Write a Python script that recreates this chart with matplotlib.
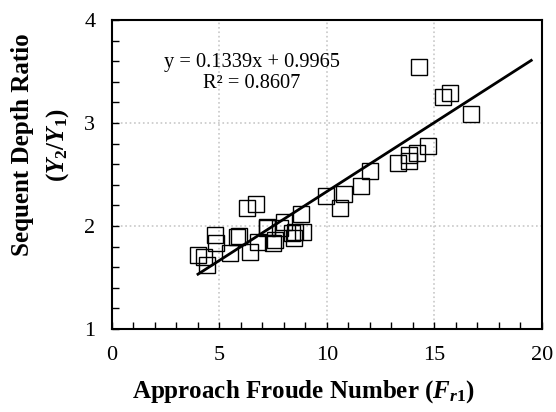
import matplotlib.pyplot as plt
import numpy as np
from matplotlib.ticker import MultipleLocator

plt.rcParams["font.family"] = ["Liberation Serif", "DejaVu Serif"]
plt.rcParams["mathtext.fontset"] = "custom"
plt.rcParams["mathtext.rm"] = "Liberation Serif:bold"
plt.rcParams["mathtext.it"] = "Liberation Serif:bold:italic"
plt.rcParams["mathtext.bf"] = "Liberation Serif:bold"

# Approach Froude number (Fr1) and sequent depth ratio (Y2/Y1)
froude = [4.0, 4.3, 4.4, 4.8, 4.85, 5.5, 5.8, 5.9, 6.3, 6.7, 6.4, 6.8,
          7.2, 7.2, 7.5, 7.6, 7.8, 8.0, 8.35, 8.45, 8.5, 8.8, 8.9,
          9.97, 10.6, 10.8, 11.6, 12.0, 13.3, 13.8, 13.8, 14.2, 14.7,
          14.3, 15.4, 15.7, 16.7]
depth_ratio = [1.72, 1.70, 1.62, 1.91, 1.83, 1.74, 1.89, 1.90, 2.17, 2.21, 1.75, 1.84,
               1.98, 1.99, 1.83, 1.86, 1.98, 2.04, 1.93, 1.88, 1.94, 2.12, 1.94,
               2.29, 2.17, 2.31, 2.39, 2.53, 2.61, 2.63, 2.69, 2.71, 2.78,
               3.54, 3.25, 3.29, 3.09]

# linear trendline reported on the chart
slope, intercept = 0.1339, 0.9965
trend_x = [4.0, 19.5]

fig = plt.figure(figsize=(5.56, 4.12), dpi=100)
ax = fig.add_axes([0.2014, 0.2015, 0.7734, 0.75])

ax.plot(froude, depth_ratio, linestyle="none", marker="s", markersize=11.5,
        markerfacecolor="none", markeredgecolor="black", markeredgewidth=1.0,
        zorder=3)
tx = np.array(trend_x)
ax.plot(tx, slope * tx + intercept, color="black", linewidth=2.0, zorder=4)

ax.set_xlim(0, 20)
ax.set_ylim(1, 4)
ax.xaxis.set_major_locator(MultipleLocator(5))
ax.xaxis.set_minor_locator(MultipleLocator(1))
ax.yaxis.set_major_locator(MultipleLocator(1))
ax.yaxis.set_minor_locator(MultipleLocator(0.2))
ax.tick_params(which="both", direction="in", length=5, width=1.0,
               labelsize=16, pad=12)
ax.grid(True, which="major", color="#c8c8c8", linestyle=":", linewidth=1.2)
ax.set_axisbelow(True)
for sp in ax.spines.values():
    sp.set_linewidth(1.5)

ax.text(6.5, 3.485, "y = 0.1339x + 0.9965\nR² = 0.8607", ha="center",
        va="center", fontsize=14.7, linespacing=1.2)

fig.text(0.546, 0.0485, r"Approach Froude Number ($F_{r\mathit{1}}$)",
         ha="center", va="center", fontsize=18, fontweight="bold")
fig.text(0.04, 0.648, "Sequent Depth Ratio", rotation=90, ha="center",
         va="center", fontsize=18, fontweight="bold")
fig.text(0.104, 0.648, r"$(Y_{\mathit{2}}/Y_{\mathit{1}})$", rotation=90,
         ha="center", va="center", fontsize=18, fontweight="bold")

fig.savefig("out.png", dpi=100)
plt.close(fig)
